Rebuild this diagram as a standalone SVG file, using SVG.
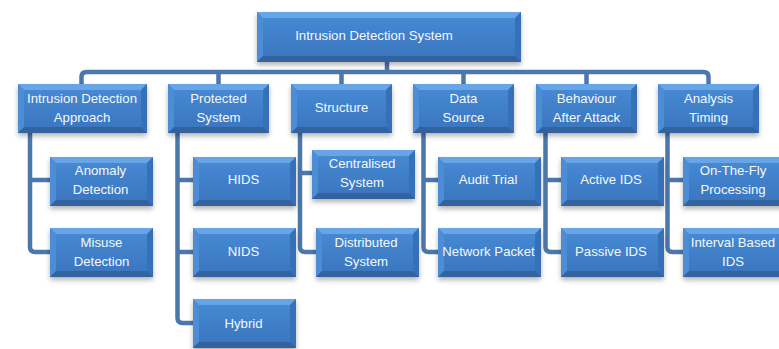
<svg xmlns="http://www.w3.org/2000/svg" xmlns:xlink="http://www.w3.org/1999/xlink" width="779" height="349" viewBox="0 0 779 349">
  <defs>
    <linearGradient id="face" x1="0" y1="0" x2="0" y2="1">
      <stop offset="0" stop-color="#478bd5"/>
      <stop offset="1" stop-color="#3a74bd"/>
    </linearGradient>
    <filter id="shadow" x="-10%" y="-20%" width="120%" height="160%">
      <feDropShadow dx="0" dy="3" stdDeviation="2.5" flood-color="#000" flood-opacity="0.3"/>
    </filter>
    <!-- bevelled box shapes, one per size -->
    <g id="b264x50" filter="url(#shadow)">
      <rect width="264" height="50" fill="url(#face)"/>
      <path class="bt" d="M0 0h264l-6 6h-252z"/>
      <path class="bl" d="M0 0l6 6v38l-6 6z"/>
      <path class="br" d="M264 0v50l-6 -6v-38z"/>
      <path class="bb" d="M0 50l6 -6h252l6 6z"/>
    </g>
    <g id="b129" filter="url(#shadow)">
      <rect width="129" height="49" fill="url(#face)"/>
      <path class="bt" d="M0 0h129l-6 6h-117z"/>
      <path class="bl" d="M0 0l6 6v37l-6 6z"/>
      <path class="br" d="M129 0v49l-6 -6v-37z"/>
      <path class="bb" d="M0 49l6 -6h117l6 6z"/>
    </g>
    <g id="b101" filter="url(#shadow)">
      <rect width="101" height="49" fill="url(#face)"/>
      <path class="bt" d="M0 0h101l-6 6h-89z"/>
      <path class="bl" d="M0 0l6 6v37l-6 6z"/>
      <path class="br" d="M101 0v49l-6 -6v-37z"/>
      <path class="bb" d="M0 49l6 -6h89l6 6z"/>
    </g>
    <g id="b103" filter="url(#shadow)">
      <rect width="103" height="49" fill="url(#face)"/>
      <path class="bt" d="M0 0h103l-6 6h-91z"/>
      <path class="bl" d="M0 0l6 6v37l-6 6z"/>
      <path class="br" d="M103 0v49l-6 -6v-37z"/>
      <path class="bb" d="M0 49l6 -6h91l6 6z"/>
    </g>
  </defs>
  <style>
    .bt { fill: #68a5e7; }
    .bl { fill: #4d8dd6; }
    .br { fill: #3670b8; }
    .bb { fill: #31649f; }
    .conn { fill: none; stroke: #4b77ab; stroke-width: 4.5; stroke-linejoin: round; }
    text { font-family: "Liberation Sans", Arial, sans-serif; font-size: 13.2px; fill: #f4f8fd; text-anchor: middle; }
  </style>

  <rect width="779" height="349" fill="#ffffff"/>

  <!-- connectors -->
  <g id="connectors" class="conn">
    <path d="M387 62V72"/>
    <path d="M81.5 84V77Q81.5 72 86.5 72H703.5Q708.5 72 708.5 77V84"/>
    <path d="M218.5 72V84M341.5 72V84M463.5 72V84M586.5 72V84"/>
    <path d="M30 133V247Q30 252 35 252H50M30 180H50"/>
    <path d="M177.5 133V318Q177.5 323 182.5 323H193M177.5 180H193M177.5 252H193"/>
    <path d="M300 133V247Q300 252 305 252H316M300 173H312"/>
    <path d="M423.5 133V247Q423.5 252 428.5 252H438M423.5 180H438"/>
    <path d="M545.5 133V247Q545.5 252 550.5 252H561M545.5 180H561"/>
    <path d="M667.5 133V247Q667.5 252 672.5 252H683M667.5 180H683"/>
  </g>

  <!-- root -->
  <g id="ids">
    <use href="#b264x50" x="257" y="12"/>
    <text x="374" y="39.5">Intrusion Detection System</text>
  </g>

  <!-- categories -->
  <g id="approach">
    <use href="#b129" x="18" y="84"/>
    <text x="82" y="102.5">Intrusion Detection</text>
    <text x="82" y="122">Approach</text>
  </g>
  <g id="protected">
    <use href="#b101" x="168" y="84"/>
    <text x="218.5" y="102.5">Protected</text>
    <text x="218.5" y="122">System</text>
  </g>
  <g id="structure">
    <use href="#b101" x="291" y="84"/>
    <text x="341.5" y="112">Structure</text>
  </g>
  <g id="datasource">
    <use href="#b101" x="413" y="84"/>
    <text x="463.5" y="102.5">Data</text>
    <text x="463.5" y="122">Source</text>
  </g>
  <g id="behaviour">
    <use href="#b101" x="536" y="84"/>
    <text x="586.5" y="102.5">Behaviour</text>
    <text x="586.5" y="122">After Attack</text>
  </g>
  <g id="timing">
    <use href="#b101" x="658" y="84"/>
    <text x="708.5" y="102.5">Analysis</text>
    <text x="708.5" y="122">Timing</text>
  </g>

  <!-- leaves -->
  <g id="anomaly">
    <use href="#b103" x="50" y="157"/>
    <text x="100.5" y="174.5">Anomaly</text>
    <text x="100.5" y="193.5">Detection</text>
  </g>
  <g id="misuse">
    <use href="#b103" x="50" y="228"/>
    <text x="101.5" y="246.5">Misuse</text>
    <text x="101.5" y="265.5">Detection</text>
  </g>
  <g id="hids">
    <use href="#b103" x="193" y="157"/>
    <text x="243.5" y="183.5">HIDS</text>
  </g>
  <g id="nids">
    <use href="#b103" x="193" y="228"/>
    <text x="243.5" y="255.5">NIDS</text>
  </g>
  <g id="hybrid">
    <use href="#b103" x="193" y="299"/>
    <text x="243.5" y="327.5">Hybrid</text>
  </g>
  <g id="centralised">
    <use href="#b103" x="312" y="150"/>
    <text x="362" y="167.5">Centralised</text>
    <text x="362" y="186.5">System</text>
  </g>
  <g id="distributed">
    <use href="#b103" x="316" y="228"/>
    <text x="366" y="246.5">Distributed</text>
    <text x="366" y="265.5">System</text>
  </g>
  <g id="audit">
    <use href="#b103" x="438" y="157"/>
    <text x="488" y="183.5">Audit Trial</text>
  </g>
  <g id="packet">
    <use href="#b103" x="438" y="228"/>
    <text x="488.5" y="255.5">Network Packet</text>
  </g>
  <g id="active">
    <use href="#b103" x="561" y="157"/>
    <text x="611" y="183.5">Active IDS</text>
  </g>
  <g id="passive">
    <use href="#b103" x="561" y="228"/>
    <text x="611" y="255.5">Passive IDS</text>
  </g>
  <g id="onthefly">
    <use href="#b103" x="683" y="157"/>
    <text x="733" y="174.5">On-The-Fly</text>
    <text x="733" y="193.5">Processing</text>
  </g>
  <g id="interval">
    <use href="#b103" x="683" y="228"/>
    <text x="733" y="246.5">Interval Based</text>
    <text x="733" y="265.5">IDS</text>
  </g>
</svg>
